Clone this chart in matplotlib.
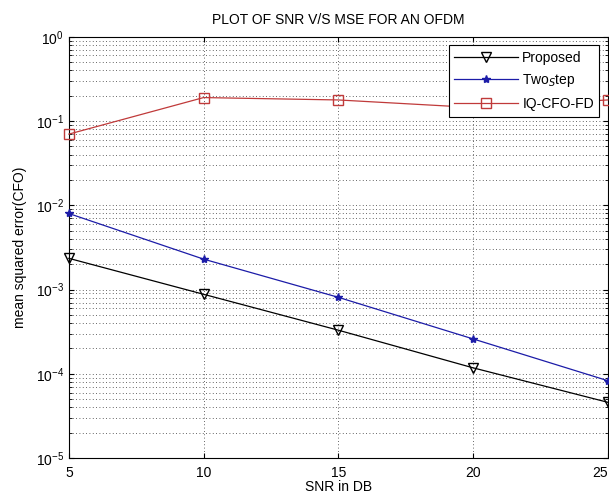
import numpy as np
import matplotlib.pyplot as plt

plt.rcParams['font.family'] = ['Liberation Sans', 'DejaVu Sans']

# SNR values (dB) and MSE of the CFO estimate for each method
snr = [5, 10, 15, 20, 25]
mse_proposed = [2.35e-3, 8.8e-4, 3.3e-4, 1.18e-4, 4.6e-5]
mse_twostep = [8.0e-3, 2.3e-3, 8.1e-4, 2.6e-4, 8.3e-5]
mse_iqcfo = [0.070, 0.19, 0.178, 0.145, 0.178]

fig = plt.figure(figsize=(6.09, 5.04), dpi=100)
ax = fig.add_axes([0.113, 0.091, 0.885, 0.836])

ax.semilogy(snr, mse_proposed, color='black', marker='v', markerfacecolor='none',
            markersize=7, linewidth=0.9, label='Proposed', clip_on=False, zorder=3)
ax.semilogy(snr, mse_twostep, color='#1c1ca8', marker='*', markersize=6,
            linewidth=0.9, label='Two$_S$tep', clip_on=False, zorder=3)
ax.semilogy(snr, mse_iqcfo, color='#c03a3a', marker='s', markerfacecolor='none',
            markersize=7, linewidth=0.9, label='IQ-CFO-FD', clip_on=False, zorder=3)

ax.set_xlim(5, 25)
ax.set_ylim(1e-5, 1)
ax.set_xticks([5, 10, 15, 20, 25])
grid_style = dict(linestyle=(0, (1, 3)), color='#333333', linewidth=0.6)
ax.grid(True, which='major', axis='both', **grid_style)
ax.grid(True, which='minor', axis='y', **grid_style)
ax.tick_params(which='both', direction='in', top=True, right=True, labelsize=10)
ax.tick_params(axis='x', pad=6)
ax.get_xticklabels()[-1].set_horizontalalignment('right')

ax.set_title('PLOT OF SNR V/S MSE FOR AN OFDM', fontsize=10, pad=9)
ax.set_xlabel('SNR in DB', fontsize=10, labelpad=0)
ax.set_ylabel('mean squared error(CFO)', fontsize=10, labelpad=6)

leg = ax.legend(loc='upper right', fontsize=10, fancybox=False, framealpha=1,
                edgecolor='black', borderaxespad=0.6, handlelength=4.6,
                handletextpad=0.3, labelspacing=0.55, borderpad=0.4)
leg.get_frame().set_linewidth(0.8)

fig.savefig('out.png', dpi=100)
